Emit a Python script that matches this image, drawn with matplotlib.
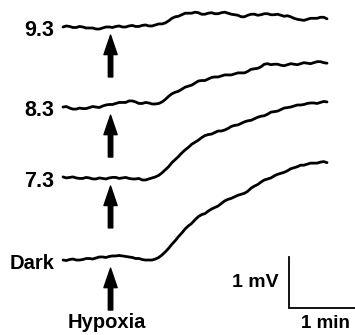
import numpy as np
import matplotlib
matplotlib.use("Agg")
import matplotlib.pyplot as plt

# ---- data (time in min, membrane potential change in mV) ----
time_min = np.round(np.arange(0, 4.001, 0.05), 3)

trace_labels = ["9.3", "8.3", "7.3", "Dark"]

v_93 = [0.00, 0.02, 0.01, -0.01, -0.01, 0.01, 0.00, -0.02, -0.02, -0.02,
        -0.04, -0.04, -0.02, 0.00, 0.00, -0.01, 0.01, 0.02, 0.00, 0.00,
        0.02, 0.03, 0.01, 0.01, 0.03, 0.04, 0.02, 0.02, 0.04, 0.06,
        0.06, 0.08, 0.12, 0.17, 0.20, 0.21, 0.24, 0.27, 0.27, 0.27,
        0.29, 0.28, 0.25, 0.25, 0.27, 0.28, 0.26, 0.26, 0.28, 0.29,
        0.27, 0.25, 0.24, 0.23, 0.20, 0.20, 0.23, 0.25, 0.25, 0.23,
        0.24, 0.26, 0.26, 0.24, 0.24, 0.25, 0.23, 0.21, 0.22, 0.20,
        0.17, 0.15, 0.14, 0.13, 0.15, 0.17, 0.17, 0.17, 0.19, 0.19,
        0.16]

v_83 = [0.00, 0.01, -0.02, -0.04, -0.04, -0.02, -0.03, -0.03, -0.01, 0.01,
        0.00, -0.01, 0.02, 0.04, 0.05, 0.05, 0.07, 0.09, 0.09, 0.09,
        0.12, 0.12, 0.10, 0.07, 0.07, 0.09, 0.08, 0.06, 0.06, 0.07,
        0.10, 0.15, 0.21, 0.26, 0.29, 0.31, 0.35, 0.39, 0.41, 0.43,
        0.47, 0.51, 0.52, 0.52, 0.55, 0.58, 0.59, 0.59, 0.61, 0.63,
        0.63, 0.63, 0.65, 0.67, 0.67, 0.67, 0.70, 0.74, 0.75, 0.76,
        0.79, 0.84, 0.85, 0.83, 0.84, 0.84, 0.82, 0.81, 0.83, 0.85,
        0.84, 0.83, 0.85, 0.87, 0.86, 0.85, 0.87, 0.89, 0.89, 0.87,
        0.86]

v_73 = [0.02, 0.00, 0.01, 0.02, 0.00, -0.01, -0.01, 0.01, 0.00, -0.02,
        -0.02, 0.00, -0.01, -0.02, 0.00, 0.01, 0.01, -0.01, 0.00, 0.01,
        -0.01, -0.02, -0.02, -0.01, -0.04, -0.04, -0.02, 0.00, 0.02, 0.05,
        0.10, 0.16, 0.22, 0.30, 0.36, 0.42, 0.49, 0.55, 0.60, 0.66,
        0.70, 0.74, 0.79, 0.83, 0.85, 0.86, 0.89, 0.92, 0.92, 0.94,
        0.97, 1.01, 1.03, 1.04, 1.07, 1.10, 1.12, 1.13, 1.16, 1.19,
        1.21, 1.22, 1.25, 1.29, 1.30, 1.31, 1.34, 1.37, 1.38, 1.39,
        1.41, 1.43, 1.43, 1.44, 1.46, 1.47, 1.47, 1.46, 1.48, 1.50,
        1.49]

v_dark = [0.00, -0.01, 0.01, 0.02, 0.00, 0.00, 0.01, 0.03, 0.03, 0.02,
          0.04, 0.06, 0.06, 0.05, 0.07, 0.08, 0.08, 0.09, 0.08, 0.07,
          0.06, 0.05, 0.03, 0.03, 0.01, 0.00, 0.00, 0.00, 0.02, 0.05,
          0.10, 0.16, 0.23, 0.31, 0.38, 0.46, 0.53, 0.61, 0.67, 0.72,
          0.79, 0.85, 0.89, 0.91, 0.96, 1.00, 1.03, 1.06, 1.11, 1.16,
          1.19, 1.21, 1.24, 1.27, 1.29, 1.31, 1.35, 1.41, 1.45, 1.48,
          1.53, 1.57, 1.59, 1.61, 1.65, 1.68, 1.70, 1.72, 1.75, 1.79,
          1.81, 1.83, 1.86, 1.86, 1.88, 1.90, 1.90, 1.90, 1.92, 1.93,
          1.91]

hypoxia_onset_min = 0.72
scale_mv = 1.0
scale_min = 1.0

# ---- layout ----
traces = [v_93, v_83, v_73, v_dark]
baselines = [6.04, 4.47, 3.08, 1.47]   # vertical stacking offsets (mV)
label_sizes = [15.5, 15.5, 15.5, 14.5]

plt.rcParams['font.family'] = ['Liberation Sans', 'DejaVu Sans']
fig = plt.figure(figsize=(3.55, 3.35), dpi=100)
ax = fig.add_axes([0, 0, 1, 1])
ax.set_xlim(-0.955, 4.424)
ax.set_ylim(0, 6.569)
ax.axis('off')

for lab, v, b, fs in zip(trace_labels, traces, baselines, label_sizes):
    ax.plot(time_min, np.asarray(v) + b, color='black', lw=2.0,
            solid_joinstyle='round', solid_capstyle='round')
    ax.text(-0.13, b - 0.17, lab, ha='right', va='baseline',
            fontsize=fs, fontweight='bold')
    ax.annotate('', xy=(hypoxia_onset_min, b - 0.16),
                xytext=(hypoxia_onset_min, b - 0.98),
                arrowprops=dict(arrowstyle='simple,head_length=1.4,head_width=0.95,tail_width=0.32',
                                mutation_scale=10, color='black',
                                shrinkA=0, shrinkB=0))

ax.text(0.67, 0.13, 'Hypoxia', ha='center', va='baseline',
        fontsize=14.5, fontweight='bold')

# scale bar
x0, y0 = 3.42, 0.53
ax.plot([x0, x0, x0 + scale_min], [y0 + scale_mv, y0, y0],
        color='black', lw=1.3, solid_joinstyle='miter')
ax.text(x0 - 0.16, y0 + 0.49, '1 mV', ha='right', va='center',
        fontsize=14, fontweight='bold')
ax.text(3.98, 0.13, '1 min', ha='center', va='baseline',
        fontsize=13.5, fontweight='bold')

fig.savefig('out.png', dpi=100)
